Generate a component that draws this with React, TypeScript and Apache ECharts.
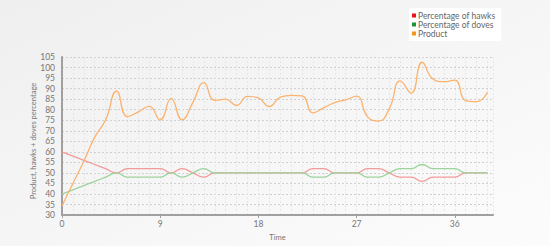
import React, { useEffect, useRef } from "react";
import * as echarts from "echarts";

const times: number[] = Array.from({ length: 40 }, (_, i) => i);
const product: number[] = [
  34.4, 45, 55.5, 67, 75.2, 88.8, 76.7, 79, 81.6, 75.2,
  85.4, 75.2, 83.5, 92.8, 84.4, 85, 82, 86.3, 85.6, 81.5,
  86, 86.8, 86.6, 78.5, 81, 83.4, 84.7, 86.4, 76.7, 74.6,
  80.5, 93.7, 87.9, 102.5, 94.6, 93.3, 94, 84.3, 83.8, 88.4,
];
const hawks: number[] = [
  60, 58, 56, 54, 52, 50, 52, 52, 52, 52,
  50, 52, 50, 48, 50, 50, 50, 50, 50, 50,
  50, 50, 50, 52, 52, 50, 50, 50, 52, 52,
  50, 48, 48, 46, 48, 48, 48, 50, 50, 50,
];
const doves: number[] = [
  40, 42, 44, 46, 48, 50, 48, 48, 48, 48,
  50, 48, 50, 52, 50, 50, 50, 50, 50, 50,
  50, 50, 50, 48, 48, 50, 50, 50, 48, 48,
  50, 52, 52, 54, 52, 52, 52, 50, 50, 50,
];
const seriesNames = ["Percentage of hawks", "Percentage of doves", "Product"];
const yAxisTitle = "Product, hawks + doves percentage";
const xAxisTitle = "Time";
const lineColors = ["#f39b9b", "#9dd49d", "#fbb36e"];
const legendColors = ["#e8141a", "#17963a", "#f7941d"];

const FONT = "Lato, 'DejaVu Sans', sans-serif";

export default function App() {
  const ref = useRef<HTMLDivElement>(null);
  useEffect(() => {
    if (!ref.current) return;
    const chart = echarts.init(ref.current, undefined, { renderer: "svg" });
    const pairs = (vals: number[]) => times.map((t, i) => [t, vals[i]]);
    chart.setOption({
      animation: false,
      backgroundColor: {
        type: "linear", x: 0, y: 0, x2: 1, y2: 1,
        colorStops: [
          { offset: 0, color: "#efefef" },
          { offset: 1, color: "#fcfcfc" },
        ],
      },
      textStyle: { fontFamily: FONT },
      legend: {
        orient: "vertical",
        left: 409,
        top: 8,
        backgroundColor: "#ffffff",
        padding: [3, 6, 3, 3],
        itemGap: 0,
        itemWidth: 4,
        itemHeight: 4,
        icon: "rect",
        textStyle: { fontSize: 8.5, color: "#666", fontFamily: FONT, padding: [0, 0, 0, -3] },
        data: seriesNames.map((n, i) => ({ name: n, itemStyle: { color: legendColors[i] } })),
      },
      graphic: [
        {
          type: "text",
          x: 33,
          y: 141,
          rotation: Math.PI / 2,
          style: {
            text: yAxisTitle,
            fontSize: 7.5,
            fill: "#777",
            fontFamily: FONT,
            align: "center",
            verticalAlign: "middle",
          },
        },
      ],
      grid: { left: 62, right: 57, top: 57, bottom: 22, containLabel: false },
      xAxis: [
        {
          type: "value",
          min: 0,
          max: 39.5,
          interval: 9,
          name: xAxisTitle,
          nameLocation: "middle",
          nameGap: 9,
          nameTextStyle: { fontSize: 7.5, color: "#777" },
          axisLine: { onZero: false, lineStyle: { color: "#a0a0a0", width: 2 } },
          axisTick: { show: true, length: 3, lineStyle: { color: "#a0a0a0" } },
          axisLabel: { fontSize: 8.5, color: "#777", margin: 4, showMaxLabel: false },
          splitLine: { show: true, lineStyle: { color: "#c8c8c8", type: [2, 2], width: 1 } },
        },
        {
          type: "value",
          min: 0,
          max: 39.5,
          interval: 1,
          position: "bottom",
          show: true,
          axisLine: { show: false },
          axisTick: { show: false },
          axisLabel: { show: false },
          splitLine: { show: true, lineStyle: { color: "#e6e6e6", type: [2, 2], width: 1 } },
        },
      ],
      yAxis: {
        type: "value",
        min: 30,
        max: 105,
        interval: 5,
        offset: 3,
        axisLine: { show: true, lineStyle: { color: "#a0a0a0", width: 2 } },
        axisTick: { show: false },
        axisLabel: { fontSize: 8.5, color: "#777", margin: 4 },
        splitLine: { show: true, lineStyle: { color: "#d0d0d0", type: [2, 2], width: 1 } },
      },
      series: [
        { name: seriesNames[0], type: "line", xAxisIndex: 0, data: pairs(hawks), smooth: 0.5, showSymbol: false, symbol: "none", lineStyle: { color: lineColors[0], width: 1.3 }, itemStyle: { color: legendColors[0] } },
        { name: seriesNames[1], type: "line", xAxisIndex: 0, data: pairs(doves), smooth: 0.5, showSymbol: false, symbol: "none", lineStyle: { color: lineColors[1], width: 1.3 }, itemStyle: { color: legendColors[1] } },
        { name: seriesNames[2], type: "line", xAxisIndex: 0, data: pairs(product), smooth: 0.5, showSymbol: false, symbol: "none", lineStyle: { color: lineColors[2], width: 1.3 }, itemStyle: { color: legendColors[2] } },
      ],
    });
    return () => chart.dispose();
  }, []);
  return (
    <div
      ref={ref}
      style={{ position: "absolute", left: 0, top: 0, width: 550, height: 246 }}
    />
  );
}
